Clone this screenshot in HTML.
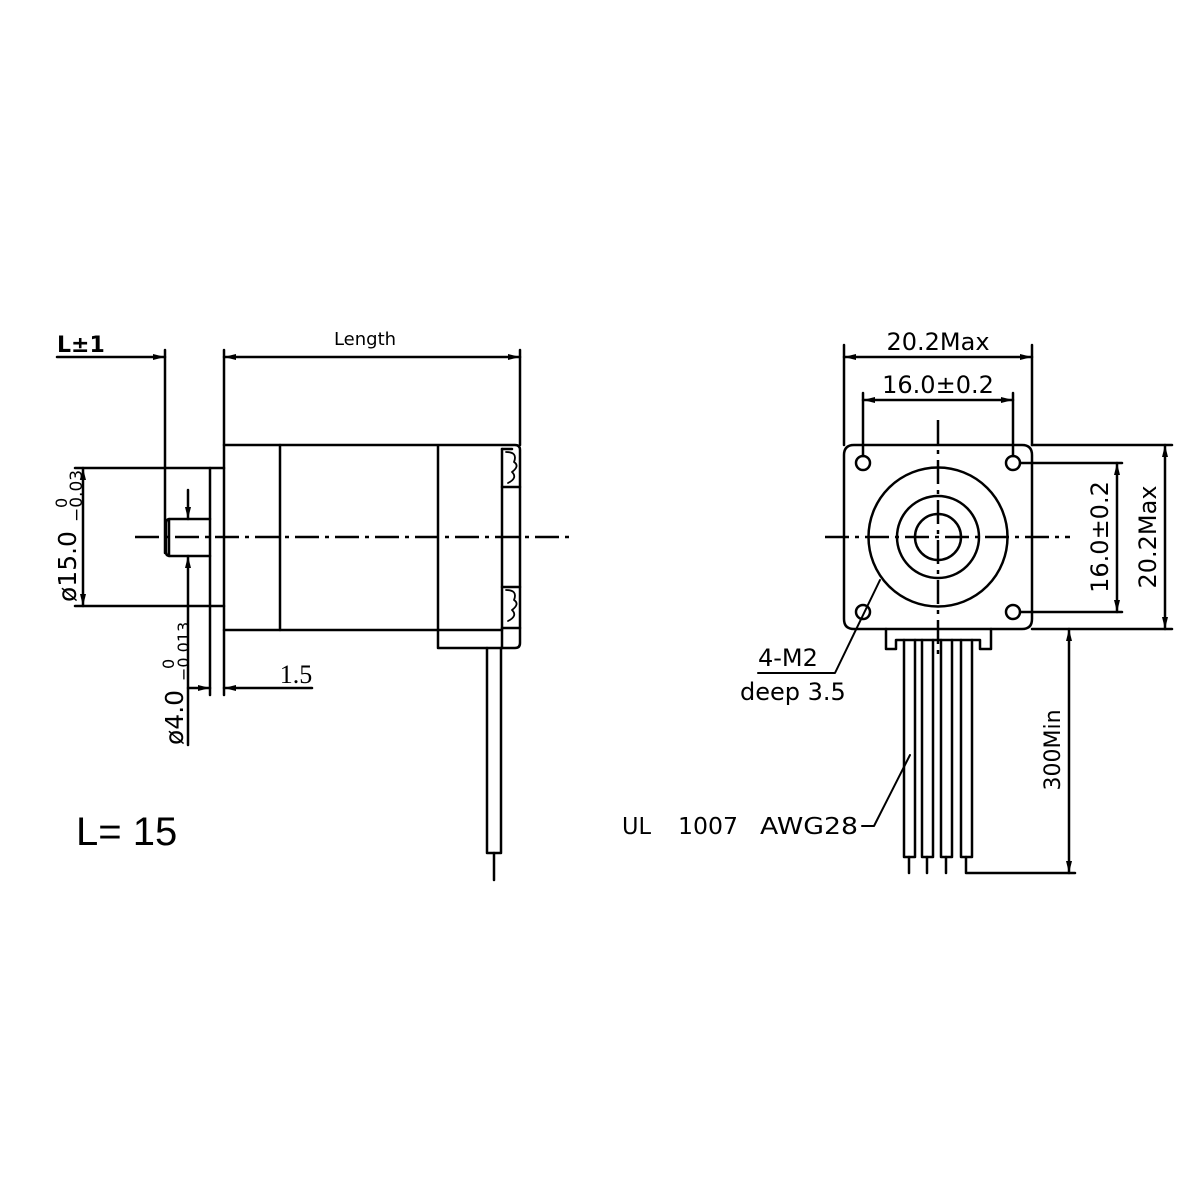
<!DOCTYPE html>
<html><head><meta charset="utf-8"><style>html,body{margin:0;padding:0;background:#fff}svg{display:block}</style></head>
<body>
<svg width="1200" height="1200" viewBox="0 0 1200 1200" xmlns="http://www.w3.org/2000/svg">
<defs>
<marker id="a" viewBox="0 0 12 6" refX="12" refY="3" markerWidth="12" markerHeight="6" markerUnits="userSpaceOnUse" orient="auto-start-reverse"><path d="M0,0 L12,3 L0,6 z" fill="#000"/></marker>
</defs>
<g stroke="#000" stroke-width="2.5" fill="none" stroke-linecap="round" stroke-linejoin="round">
<line x1="57" y1="357" x2="165" y2="357" marker-end="url(#a)"/>
<line x1="224" y1="357" x2="520" y2="357" marker-start="url(#a)" marker-end="url(#a)"/>
<line x1="165" y1="350" x2="165" y2="553"/>
<line x1="224" y1="350" x2="224" y2="695"/>
<line x1="520" y1="350" x2="520" y2="445"/>
<line x1="75" y1="468" x2="224" y2="468"/>
<line x1="75" y1="606" x2="224" y2="606"/>
<line x1="210" y1="468" x2="210" y2="695"/>
<path d="M210,519 H170 Q166,519 166,523 V552 Q166,556 170,556 H210"/>
<line x1="169" y1="519" x2="169" y2="556"/>
<path d="M224,445 H515 Q520,445 520,450 V643 Q520,648 515,648 H438 V445"/>
<line x1="224" y1="630" x2="502" y2="630"/>
<line x1="280" y1="445" x2="280" y2="630"/>
<line x1="502" y1="449" x2="502" y2="648"/>
<path d="M502,449 H512 M502,487 H520 M502,587 H520 M502,628 H520"/>
<path d="M506,452 Q518,452 514,462 Q520,466 512,472 Q518,478 508,483 M506,590 Q518,590 514,600 Q520,604 512,610 Q518,616 508,621" stroke-width="1.8"/>
<path d="M487,648 V853 H501 V648"/>
<line x1="494" y1="853" x2="494" y2="880"/>
<line x1="135" y1="537" x2="570" y2="537" stroke-dasharray="24,6,4,6" stroke-linecap="butt"/>
<line x1="83" y1="468" x2="83" y2="606" marker-start="url(#a)" marker-end="url(#a)"/>
<line x1="188" y1="490" x2="188" y2="519" marker-end="url(#a)"/>
<line x1="188" y1="745" x2="188" y2="556" marker-end="url(#a)"/>
<line x1="188" y1="688" x2="210" y2="688" marker-end="url(#a)"/>
<line x1="312" y1="688" x2="224" y2="688" marker-end="url(#a)"/>

<path d="M854,445 H1022 Q1032,445 1032,455 V619 Q1032,629 1022,629 H854 Q844,629 844,619 V455 Q844,445 854,445 z"/>
<circle cx="863" cy="463" r="7"/><circle cx="1013" cy="463" r="7"/>
<circle cx="863" cy="612" r="7"/><circle cx="1013" cy="612" r="7"/>
<circle cx="938" cy="537" r="69.5"/><circle cx="938" cy="537" r="41"/><circle cx="938" cy="537" r="23"/>
<line x1="825" y1="537" x2="1070" y2="537" stroke-dasharray="24,6,4,6" stroke-linecap="butt"/>
<line x1="938" y1="420" x2="938" y2="655" stroke-dasharray="24,6,4,6" stroke-linecap="butt"/>
<line x1="844" y1="345" x2="844" y2="445"/><line x1="1032" y1="345" x2="1032" y2="445"/>
<line x1="844" y1="357" x2="1032" y2="357" marker-start="url(#a)" marker-end="url(#a)"/>
<line x1="863" y1="393" x2="863" y2="456"/><line x1="1013" y1="393" x2="1013" y2="456"/>
<line x1="863" y1="400" x2="1013" y2="400" marker-start="url(#a)" marker-end="url(#a)"/>
<line x1="1020" y1="463" x2="1122" y2="463"/><line x1="1020" y1="612" x2="1122" y2="612"/>
<line x1="1117" y1="463" x2="1117" y2="612" marker-start="url(#a)" marker-end="url(#a)"/>
<line x1="1032" y1="445" x2="1172" y2="445"/><line x1="1032" y1="629" x2="1172" y2="629"/>
<line x1="1165" y1="445" x2="1165" y2="629" marker-start="url(#a)" marker-end="url(#a)"/>
<path d="M886,629 V649 H896 V640 H980 V649 H991 V629"/>
<path d="M904,640 V857 H915 V640 M922,640 V857 H933 V640 M941,640 V857 H952 V640 M961,640 V857 H972 V640"/>
<path d="M909,857 V873 M927,857 V873 M946,857 V873"/>
<path d="M966,857 V873 H1075"/>
<line x1="1069" y1="873" x2="1069" y2="629" marker-start="url(#a)" marker-end="url(#a)"/>
<path d="M758,673 H835 L880,580" stroke-width="2"/>
<path d="M862,826 H874 L910,755" stroke-width="2"/>
</g>
<g font-family="'DejaVu Sans','Liberation Sans',sans-serif" fill="#000">
<text x="57" y="352" font-size="22" font-weight="bold">L±1</text>
<text x="365" y="345" font-size="18" text-anchor="middle">Length</text>
<text x="296" y="683" font-size="26" text-anchor="middle" font-family="'Liberation Serif',serif">1.5</text>
<g transform="translate(76,602) rotate(-90)">
<text x="0" y="0" font-size="25">ø15.0</text>
<text x="80" y="6" font-size="17">−0.03</text>
<text x="94" y="-9" font-size="16">0</text>
</g>
<g transform="translate(183,745) rotate(-90)">
<text x="0" y="0" font-size="25">ø4.0</text>
<text x="64" y="6" font-size="16">−0.013</text>
<text x="76" y="-9" font-size="16">0</text>
</g>
<text x="76" y="845" font-size="40" font-family="'Liberation Sans',sans-serif">L= 15</text>
<text x="938" y="350" font-size="24" text-anchor="middle">20.2Max</text>
<text x="938" y="393" font-size="24" text-anchor="middle">16.0±0.2</text>
<text transform="translate(1108,537) rotate(-90)" font-size="24" text-anchor="middle">16.0±0.2</text>
<text transform="translate(1156,537) rotate(-90)" font-size="24" text-anchor="middle">20.2Max</text>
<text transform="translate(1060,750) rotate(-90)" font-size="22" text-anchor="middle">300Min</text>
<text x="758" y="666" font-size="24">4-M2</text>
<text x="740" y="700" font-size="24">deep 3.5</text>
<text x="622" y="834" font-size="23" textLength="29" lengthAdjust="spacingAndGlyphs">UL</text>
<text x="678" y="834" font-size="23" textLength="60" lengthAdjust="spacingAndGlyphs">1007</text>
<text x="760" y="834" font-size="23" textLength="98" lengthAdjust="spacingAndGlyphs">AWG28</text>
</g>
</svg>
</body></html>
